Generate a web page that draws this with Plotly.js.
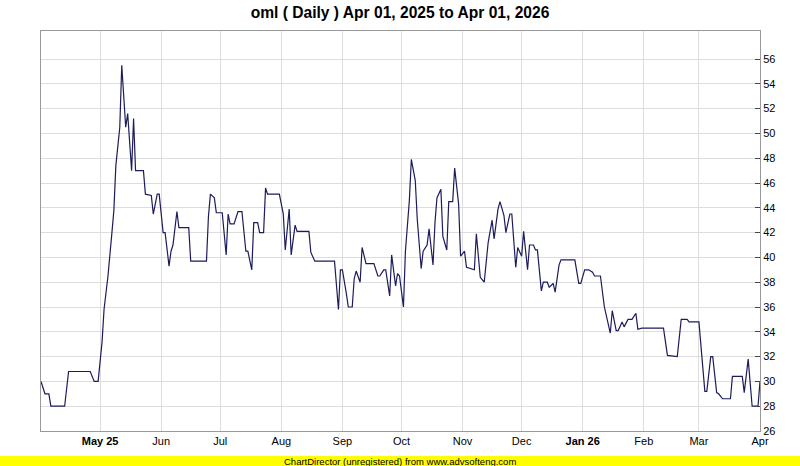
<!DOCTYPE html>
<html>
<head>
<meta charset="utf-8">
<script src="https://cdn.plot.ly/plotly-3.0.1.min.js"></script>
<style>
  html, body { margin: 0; padding: 0; background: #ffffff; }
  #chart { width: 800px; height: 466px; }
</style>
</head>
<body>
<div id="chart"></div>
<script>
// Price vertices
const dates = [
  "2025-04-01","2025-04-03","2025-04-05","2025-04-06","2025-04-13","2025-04-15","2025-04-26","2025-04-28","2025-04-30",
  "2025-05-02","2025-05-03","2025-05-05","2025-05-07","2025-05-08","2025-05-09","2025-05-11","2025-05-12","2025-05-14",
  "2025-05-15","2025-05-17","2025-05-18","2025-05-19","2025-05-23","2025-05-24","2025-05-27","2025-05-28","2025-05-30",
  "2025-05-31","2025-06-02","2025-06-03","2025-06-05","2025-06-06","2025-06-07","2025-06-09","2025-06-10","2025-06-15",
  "2025-06-16","2025-06-24","2025-06-25","2025-06-26","2025-06-28","2025-06-29","2025-07-02","2025-07-04","2025-07-05",
  "2025-07-06","2025-07-08","2025-07-10","2025-07-12","2025-07-14","2025-07-15","2025-07-17","2025-07-18","2025-07-20",
  "2025-07-21","2025-07-23","2025-07-24","2025-07-25","2025-07-31","2025-08-02","2025-08-03","2025-08-05","2025-08-06",
  "2025-08-08","2025-08-09","2025-08-15","2025-08-16","2025-08-18","2025-08-28","2025-08-30","2025-08-31","2025-09-01",
  "2025-09-03","2025-09-04","2025-09-06","2025-09-07","2025-09-08","2025-09-10","2025-09-11","2025-09-13","2025-09-17",
  "2025-09-19","2025-09-20","2025-09-22","2025-09-23","2025-09-25","2025-09-26","2025-09-28","2025-09-29","2025-09-30",
  "2025-10-02","2025-10-03","2025-10-05","2025-10-06","2025-10-08","2025-10-09","2025-10-11","2025-10-12","2025-10-14",
  "2025-10-15","2025-10-17","2025-10-18","2025-10-19","2025-10-21","2025-10-22","2025-10-24","2025-10-25","2025-10-27",
  "2025-10-28","2025-10-30","2025-10-31","2025-11-02","2025-11-03","2025-11-05","2025-11-07","2025-11-08","2025-11-10",
  "2025-11-12","2025-11-14","2025-11-16","2025-11-17","2025-11-19","2025-11-20","2025-11-22","2025-11-23","2025-11-25",
  "2025-11-26","2025-11-28","2025-11-29","2025-12-01","2025-12-02","2025-12-04","2025-12-05","2025-12-07","2025-12-08",
  "2025-12-09","2025-12-11","2025-12-12","2025-12-14","2025-12-15","2025-12-17","2025-12-18","2025-12-20","2025-12-21",
  "2025-12-28","2025-12-30","2025-12-31","2026-01-02","2026-01-04","2026-01-06","2026-01-07","2026-01-10","2026-01-12",
  "2026-01-15","2026-01-16","2026-01-18","2026-01-19","2026-01-21","2026-01-22","2026-01-24","2026-01-26","2026-01-28",
  "2026-01-29","2026-01-31","2026-02-11","2026-02-13","2026-02-18","2026-02-20","2026-02-23","2026-02-24","2026-03-01",
  "2026-03-04","2026-03-05","2026-03-07","2026-03-08","2026-03-10","2026-03-11","2026-03-13","2026-03-17","2026-03-18",
  "2026-03-23","2026-03-24","2026-03-26","2026-03-28","2026-03-31","2026-04-01"
];
const prices = [
  30.0,29.0,29.0,28.0,28.0,30.8,30.8,30.0,30.0,
  33.2,35.8,38.5,42.0,43.8,47.4,50.5,55.5,50.5,
  51.6,47.0,51.2,47.0,47.0,45.1,45.0,43.5,45.1,
  45.1,42.0,42.0,39.3,40.5,41.0,43.7,42.4,42.4,
  39.7,39.7,43.3,45.1,44.8,43.6,43.6,40.2,43.5,
  42.7,42.7,43.7,43.7,40.5,40.5,39.0,42.8,42.8,
  42.0,42.0,45.6,45.1,45.1,43.5,40.6,43.9,40.2,
  42.6,42.1,42.1,40.4,39.7,39.7,35.8,39.0,39.0,
  37.1,36.0,36.0,38.3,38.9,38.0,40.8,39.5,39.5,
  38.5,38.5,39.0,39.0,36.9,40.2,37.7,38.7,38.5,
  36.0,40.5,44.6,47.9,46.2,43.1,39.1,40.5,41.0,
  42.3,39.4,42.8,44.8,45.5,41.7,40.6,44.5,44.5,
  47.2,44.3,40.1,40.5,39.2,39.1,39.0,41.9,38.4,
  38.0,41.2,43.0,41.5,43.9,44.5,43.4,42.0,43.5,
  43.5,39.2,40.8,40.1,42.1,39.0,41.0,41.0,40.6,
  40.6,37.3,38.0,38.0,37.6,37.9,37.2,39.4,39.8,
  39.8,37.9,37.9,39.0,39.0,38.8,38.5,38.5,36.0,
  33.9,35.7,34.1,34.1,34.8,34.4,35.0,35.0,35.5,
  34.2,34.3,34.3,32.1,32.0,35.0,35.0,34.8,34.8,
  29.2,29.2,32.0,32.0,29.1,29.0,28.6,28.6,30.4,
  30.4,29.1,31.8,28.0,28.0,30.0
];

const monthTicks = ["2025-05-01","2025-06-01","2025-07-01","2025-08-01","2025-09-01","2025-10-01",
                    "2025-11-01","2025-12-01","2026-01-01","2026-02-01","2026-03-01","2026-04-01"];
const monthLabels = ["<b>May 25</b>","Jun","Jul","Aug","Sep","Oct","Nov","Dec","<b>Jan 26</b>","Feb","Mar","Apr"];
const priceTicks = [26,28,30,32,34,36,38,40,42,44,46,48,50,52,54,56];

const FONT = "Liberation Sans, Arial, sans-serif";

const trace = {
  x: dates,
  y: prices,
  type: "scatter",
  mode: "lines",
  line: { color: "#1c1c5c", width: 1.2 },
  hoverinfo: "skip"
};

const layout = {
  width: 800,
  height: 466,
  margin: { l: 41, r: 40, t: 31, b: 35 },
  paper_bgcolor: "#ffffff",
  plot_bgcolor: "#ffffff",
  showlegend: false,
  font: { family: FONT, size: 11, color: "#000000" },
  title: {
    text: "<b>oml ( Daily ) Apr 01, 2025 to Apr 01, 2026</b>",
    font: { family: FONT, size: 15.6, color: "#000000" },
    xref: "container", x: 0.5, xanchor: "center",
    yref: "container", y: 1 - 13 / 466, yanchor: "middle"
  },
  xaxis: {
    type: "date",
    range: ["2025-04-01", "2026-04-01"],
    tickmode: "array",
    tickvals: monthTicks,
    ticktext: monthLabels,
    ticks: "",
    showgrid: true,
    gridcolor: "#dddddd",
    gridwidth: 1,
    showline: true,
    linecolor: "#999999",
    linewidth: 1,
    mirror: true,
    zeroline: false,
    tickfont: { family: FONT, size: 11, color: "#000000" },
    fixedrange: true
  },
  yaxis: {
    side: "right",
    range: [26, 58.26],
    tickmode: "array",
    tickvals: priceTicks,
    ticktext: priceTicks.map(String),
    ticks: "inside",
    ticklen: 5,
    tickcolor: "#444444",
    showgrid: true,
    gridcolor: "#dddddd",
    gridwidth: 1,
    showline: true,
    linecolor: "#999999",
    linewidth: 1,
    mirror: true,
    zeroline: false,
    tickfont: { family: FONT, size: 11, color: "#000000" },
    fixedrange: true
  },
  shapes: [{
    type: "rect", xref: "paper", yref: "paper",
    x0: -0.06, x1: 1.06, y0: (431 - 456) / 400, y1: (431 - 467) / 400,
    fillcolor: "#ffff00", line: { width: 0 }, layer: "above"
  }],
  annotations: [{
    text: "ChartDirector (unregistered) from www.advsofteng.com",
    xref: "paper", yref: "paper",
    x: (400 - 41) / 719, y: (431 - 461) / 400,
    xanchor: "center", yanchor: "middle",
    showarrow: false,
    font: { family: FONT, size: 9.5, color: "#000000" }
  }]
};

Plotly.newPlot("chart", [trace], layout, { staticPlot: true, displayModeBar: false });
</script>
</body>
</html>
